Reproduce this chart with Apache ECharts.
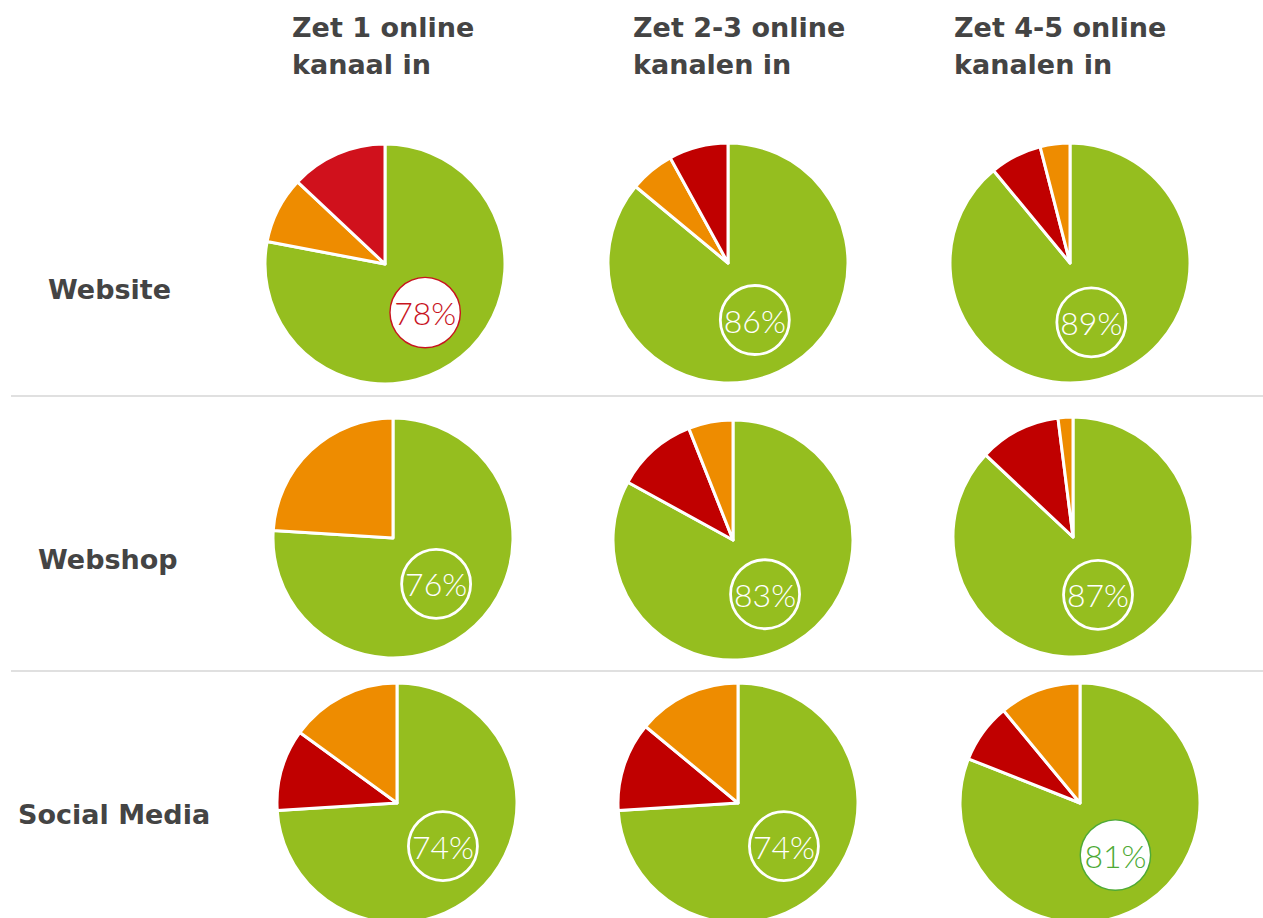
<!DOCTYPE html>
<html>
<head>
<meta charset="utf-8">
<script src="https://cdn.jsdelivr.net/npm/echarts@6/dist/echarts.min.js"></script>
<style>
html,body{margin:0;padding:0;background:#fff;}
#chart{width:1263px;height:918px;}
</style>
</head>
<body>
<div id="chart"></div>
<script>
// ---- data ----
var columnHeaders = ['Zet 1 online\nkanaal in', 'Zet 2-3 online\nkanalen in', 'Zet 4-5 online\nkanalen in'];
var rowLabels = ['Website', 'Webshop', 'Social Media'];
// percentage per row (Website, Webshop, Social Media) and column (1, 2-3, 4-5)
var greenValues  = [[78, 86, 89], [76, 83, 87], [74, 74, 81]];
var orangeValues = [[9, 6, 4],    [24, 6, 2],   [15, 14, 11]];
var redValues    = [[13, 8, 7],   [0, 11, 11],  [11, 12, 8]];
// clockwise order of the smaller slices after the green one
var sliceOrder = [
  [['orange','red'], ['orange','red'], ['red','orange']],
  [['orange','red'], ['red','orange'], ['red','orange']],
  [['red','orange'], ['red','orange'], ['red','orange']]
];

// ---- layout / style ----
var centers = [
  [[385, 264], [728, 263], [1070, 263]],
  [[393, 538], [733, 540], [1073, 537]],
  [[397, 803], [738, 803], [1080, 803]]
];
var headerLeft = [292, 633, 954];
var rowLabelPos = [[48, 276], [38, 546], [18, 801]];
var GREEN = '#95BE1F', ORANGE = '#EE8C00', RED = '#C00000', RED_BRIGHT = '#D0111C';
var labelStyles = {
  normal: {color: '#fff', backgroundColor: 'transparent', borderColor: '#fff'},
  red: {color: '#C8141E', backgroundColor: '#fff', borderColor: '#C8141E'},
  green: {color: '#4EAA36', backgroundColor: '#fff', borderColor: '#4EAA36'}
};
var labelKind = [['red','normal','normal'],['normal','normal','normal'],['normal','normal','green']];

var series = [];
for (var r = 0; r < 3; r++) {
  for (var c = 0; c < 3; c++) {
    var ls = labelStyles[labelKind[r][c]];
    var data = [{
      name: 'groen', value: greenValues[r][c],
      itemStyle: {color: GREEN},
      label: {
        show: true, position: 'inside',
        formatter: '{c}%',
        fontFamily: 'Lato', fontWeight: 300, fontSize: 32,
        color: ls.color, backgroundColor: ls.backgroundColor,
        borderColor: ls.borderColor, borderWidth: 1.4,
        textBorderWidth: 0,
        width: 69, height: 69, lineHeight: 69, borderRadius: 36,
        align: 'center', verticalAlign: 'middle', padding: 0
      }
    }];
    sliceOrder[r][c].forEach(function (k) {
      var v = k === 'orange' ? orangeValues[r][c] : redValues[r][c];
      if (v > 0) {
        var col = k === 'orange' ? ORANGE : ((r === 0 && c === 0) ? RED_BRIGHT : RED);
        data.push({name: k, value: v, itemStyle: {color: col}, label: {show: false}});
      }
    });
    series.push({
      type: 'pie',
      center: centers[r][c],
      radius: [0, 120],
      startAngle: 90,
      clockwise: true,
      silent: true,
      animation: false,
      itemStyle: {borderColor: '#fff', borderWidth: 3},
      labelLine: {show: false},
      emphasis: {disabled: true},
      data: data
    });
  }
}

var titles = [];
columnHeaders.forEach(function (t, i) {
  titles.push({
    text: t, left: headerLeft[i], top: 9, padding: 0,
    textStyle: {fontFamily: 'DejaVu Sans', fontWeight: 'bold', fontSize: 27, lineHeight: 37, color: '#444444'}
  });
});
rowLabels.forEach(function (t, i) {
  titles.push({
    text: t, left: rowLabelPos[i][0], top: rowLabelPos[i][1], padding: 0,
    textStyle: {fontFamily: 'DejaVu Sans', fontWeight: 'bold', fontSize: 27, color: '#444444'}
  });
});

var chart = echarts.init(document.getElementById('chart'), null, {renderer: 'svg'});
chart.setOption({
  backgroundColor: '#fff',
  animation: false,
  title: titles,
  graphic: [
    {type: 'line', shape: {x1: 11, y1: 396, x2: 1263, y2: 396}, style: {stroke: '#E0E0E0', lineWidth: 2}},
    {type: 'line', shape: {x1: 11, y1: 671, x2: 1263, y2: 671}, style: {stroke: '#E0E0E0', lineWidth: 2}}
  ],
  series: series
});
</script>
</body>
</html>
